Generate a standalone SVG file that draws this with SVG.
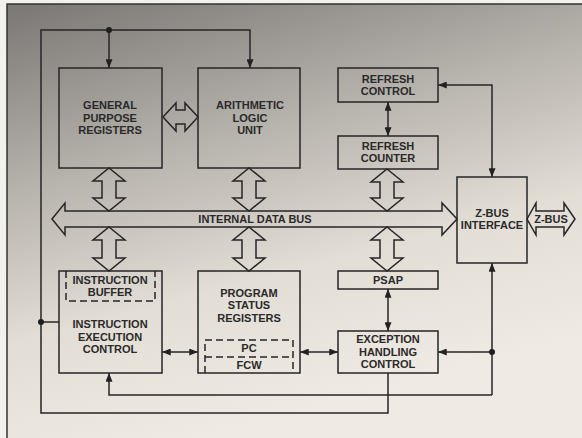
<svg xmlns="http://www.w3.org/2000/svg" width="582" height="438" viewBox="0 0 582 438">
<defs>
<linearGradient id="bg" x1="0" y1="0" x2="0.35" y2="1">
<stop offset="0" stop-color="#7a7774"/>
<stop offset="0.4" stop-color="#b8b4ae"/>
<stop offset="0.7" stop-color="#e2ddd5"/>
<stop offset="1" stop-color="#efeae3"/>
</linearGradient>
<marker id="ah" viewBox="0 0 10 8" refX="10" refY="4" markerWidth="9" markerHeight="7" markerUnits="userSpaceOnUse" orient="auto-start-reverse">
<path d="M0,0 L10,4 L0,8 Z" fill="#222"/>
</marker>
<style>
.ln{fill:none;stroke:#262626;stroke-width:1.5}
.bx{fill:none;stroke:#262626;stroke-width:1.5}
.ds{fill:none;stroke:#262626;stroke-width:1.5;stroke-dasharray:7 4}
.ha{fill:none;stroke:#262626;stroke-width:1.5;stroke-linejoin:miter}
.t{font-family:"Liberation Sans",Arial,sans-serif;font-size:11px;font-weight:bold;fill:#2a2a2a;text-anchor:middle}
.dot{fill:#1e1e1e}
</style>
</defs>
<rect x="0" y="0" width="582" height="438" fill="#f3f1ec"/>
<rect x="7" y="4" width="575" height="434" fill="url(#bg)"/>
<path d="M7,438 V4 H582" fill="none" stroke="#333" stroke-width="1.5"/>

<g id="connectors">
<path class="ln" d="M109,30 H250 V68" marker-end="url(#ah)"/>
<path class="ln" d="M109,30 V68" marker-end="url(#ah)"/>
<path class="ln" d="M109,30 H41 V413 H388 V373"/>
<circle class="dot" cx="109" cy="30" r="3"/>
<path class="ln" d="M41,322 H59"/>
<circle class="dot" cx="41" cy="322" r="3"/>
<path class="ln" d="M438,85 H492 V177" marker-start="url(#ah)" marker-end="url(#ah)"/>
<path class="ln" d="M388,102 V136" marker-start="url(#ah)" marker-end="url(#ah)"/>
<path class="ln" d="M388,289 V331" marker-start="url(#ah)" marker-end="url(#ah)"/>
<path class="ln" d="M162,352 H198" marker-start="url(#ah)" marker-end="url(#ah)"/>
<path class="ln" d="M300,352 H338" marker-start="url(#ah)" marker-end="url(#ah)"/>
<path class="ln" d="M492,352 H438" marker-end="url(#ah)"/>
<path class="ln" d="M492,395 V263" marker-end="url(#ah)"/>
<path class="ln" d="M492,395 H109 V373" marker-end="url(#ah)"/>
<circle class="dot" cx="492" cy="352" r="3"/>
<!-- hollow bus arrows -->
<path class="ha" d="M163,117 L176,103 L176,110 L185,110 L185,103 L198,117 L185,131 L185,124 L176,124 L176,131 Z"/>
<path class="ha" d="M109,168 L125,181 L116,181 L116,198 L125,198 L109,211 L93,198 L102,198 L102,181 L93,181 Z"/>
<path class="ha" d="M249,168 L265,181 L256,181 L256,198 L265,198 L249,211 L233,198 L242,198 L242,181 L233,181 Z"/>
<path class="ha" d="M387,169 L403,182 L394,182 L394,198 L403,198 L387,211 L371,198 L380,198 L380,182 L371,182 Z"/>
<path class="ha" d="M109,227 L125,240 L116,240 L116,258 L125,258 L109,271 L93,258 L102,258 L102,240 L93,240 Z"/>
<path class="ha" d="M249,227 L265,240 L256,240 L256,258 L265,258 L249,271 L233,258 L242,258 L242,240 L233,240 Z"/>
<path class="ha" d="M387,227 L403,240 L394,240 L394,258 L403,258 L387,271 L371,258 L380,258 L380,240 L371,240 Z"/>
</g>

<g id="internal-data-bus">
<path class="ha" d="M52,219 L65,203 L65,211 L442,211 L442,203 L457,219 L442,235 L442,227 L65,227 L65,235 Z"/>
<text class="t" x="255" y="223">INTERNAL DATA BUS</text>
</g>

<g id="z-bus-ext">
<path class="ha" d="M527,219 L536,203 L536,211 L564,211 L564,203 L575,219 L564,235 L564,227 L536,227 L536,235 Z"/>
<text class="t" x="551" y="223">Z-BUS</text>
</g>

<g id="gpr">
<rect class="bx" x="59" y="68" width="103" height="100"/>
<text class="t" x="110" y="109">GENERAL</text>
<text class="t" x="110" y="122">PURPOSE</text>
<text class="t" x="110" y="134">REGISTERS</text>
</g>

<g id="alu">
<rect class="bx" x="198" y="68" width="102" height="100"/>
<text class="t" x="250" y="109">ARITHMETIC</text>
<text class="t" x="250" y="122">LOGIC</text>
<text class="t" x="250" y="134">UNIT</text>
</g>

<g id="refresh-control">
<rect class="bx" x="338" y="68" width="100" height="34"/>
<text class="t" x="388" y="83">REFRESH</text>
<text class="t" x="388" y="95">CONTROL</text>
</g>

<g id="refresh-counter">
<rect class="bx" x="338" y="136" width="100" height="33"/>
<text class="t" x="388" y="150">REFRESH</text>
<text class="t" x="388" y="162">COUNTER</text>
</g>

<g id="z-bus-interface">
<rect class="bx" x="457" y="177" width="70" height="86"/>
<text class="t" x="492" y="217">Z-BUS</text>
<text class="t" x="492" y="229">INTERFACE</text>
</g>

<g id="iec">
<rect class="bx" x="59" y="271" width="103" height="102"/>
<path class="ds" d="M66,271 V301 H155 V271"/>
<text class="t" x="110" y="284">INSTRUCTION</text>
<text class="t" x="110" y="296">BUFFER</text>
<text class="t" x="110" y="328">INSTRUCTION</text>
<text class="t" x="110" y="341">EXECUTION</text>
<text class="t" x="110" y="353">CONTROL</text>
</g>

<g id="psr">
<rect class="bx" x="198" y="271" width="102" height="102"/>
<text class="t" x="249" y="297">PROGRAM</text>
<text class="t" x="249" y="309">STATUS</text>
<text class="t" x="249" y="322">REGISTERS</text>
<path class="ds" d="M205,373 V340 H293 V373"/>
<path class="ds" d="M205,357 H293"/>
<text class="t" x="249" y="352">PC</text>
<text class="t" x="249" y="369">FCW</text>
</g>

<g id="psap">
<rect class="bx" x="338" y="271" width="100" height="18"/>
<text class="t" x="388" y="284">PSAP</text>
</g>

<g id="ehc">
<rect class="bx" x="338" y="331" width="100" height="42"/>
<text class="t" x="388" y="343">EXCEPTION</text>
<text class="t" x="388" y="356">HANDLING</text>
<text class="t" x="388" y="368">CONTROL</text>
</g>
</svg>
